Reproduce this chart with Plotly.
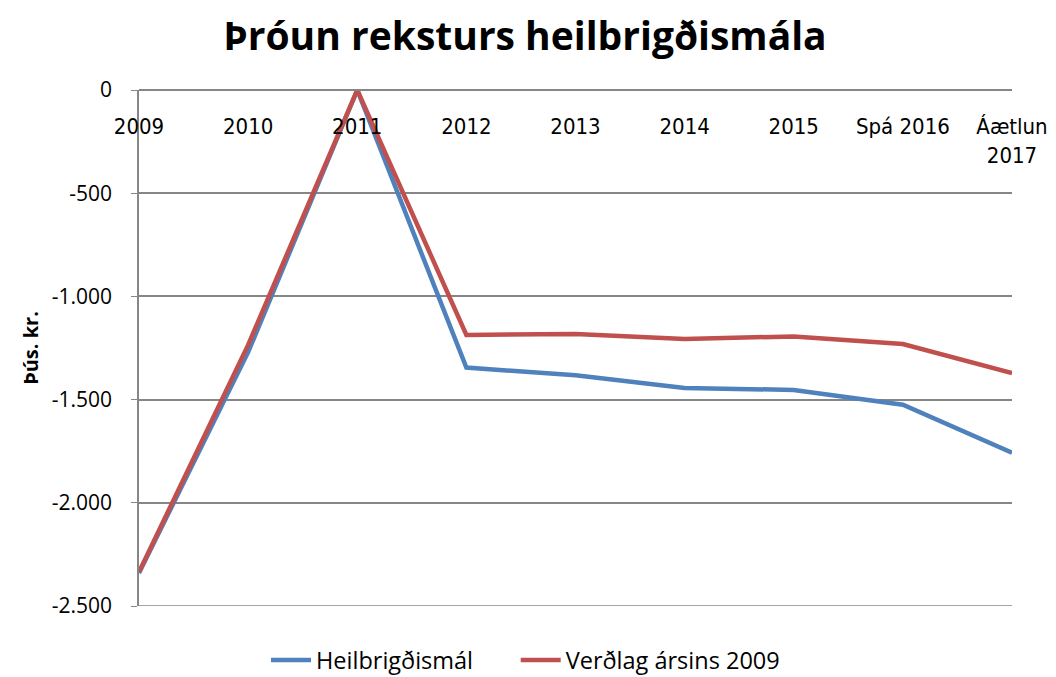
import plotly.graph_objects as go

categories = ["2009", "2010", "2011", "2012", "2013", "2014", "2015", "Spá 2016", "Áætlun<br>2017"]
heilbrigdismal = [-2340, -1270, 0, -1345, -1382, -1444, -1453, -1525, -1757]
verdlag_2009 = [-2335, -1235, 0, -1187, -1182, -1206, -1194, -1231, -1372]
y_tickvals = [0, -500, -1000, -1500, -2000, -2500]
y_ticktext = ["0", "-500", "-1.000", "-1.500", "-2.000", "-2.500"]

fig = go.Figure()
fig.add_trace(go.Scatter(x=categories, y=heilbrigdismal, mode="lines", name="Heilbrigðismál",
                         line=dict(color="#4F81BD", width=4.5), legend="legend"))
fig.add_trace(go.Scatter(x=categories, y=verdlag_2009, mode="lines", name="Verðlag ársins 2009",
                         line=dict(color="#C0504D", width=4.5), legend="legend2"))

legend_common = dict(orientation="h", xanchor="left", y=-0.105, yanchor="middle",
                     font=dict(size=23.5), itemwidth=40, tracegroupgap=0, bgcolor="rgba(0,0,0,0)")

fig.update_layout(
    width=1048, height=669,
    margin=dict(l=131, r=44, t=82, b=71, autoexpand=False),
    paper_bgcolor="white", plot_bgcolor="white",
    title=dict(text="<b>Þróun reksturs heilbrigðismála</b>", x=0.4933, xanchor="center",
               y=1 - 28 / 669, yanchor="middle",
               font=dict(family="Open Sans", size=39, color="black")),
    font=dict(family="Open Sans", color="black"),
    showlegend=True,
    legend=dict(x=0.1455, **legend_common),
    legend2=dict(x=0.4315, **legend_common),
    xaxis=dict(type="category", range=[0, 8], side="bottom", anchor="free", position=1,
               showgrid=False, showline=True, linecolor="#868686", linewidth=1.5, automargin=False,
               ticks="", ticklabelstandoff=17,
               tickfont=dict(family="Liberation Sans Narrow, DejaVu Sans Condensed", size=22), zeroline=False),
    yaxis=dict(range=[-2500, 0], tickvals=y_tickvals, ticktext=y_ticktext, automargin=False,
               showgrid=True, gridcolor="#868686", gridwidth=1.5,
               showline=True, linecolor="#868686", linewidth=1.5, mirror=False,
               ticks="outside", ticklen=6, tickcolor="#868686", ticklabelstandoff=15,
               tickfont=dict(size=21), zeroline=False,
               title=dict(text="<b>Þús. kr.</b>", font=dict(size=20), standoff=8)),
)
fig.add_shape(type="line", xref="paper", yref="y", x0=0, x1=1, y0=-2500, y1=-2500,
              line=dict(color="#868686", width=1.5), layer="below")

fig.write_html("out.html")
